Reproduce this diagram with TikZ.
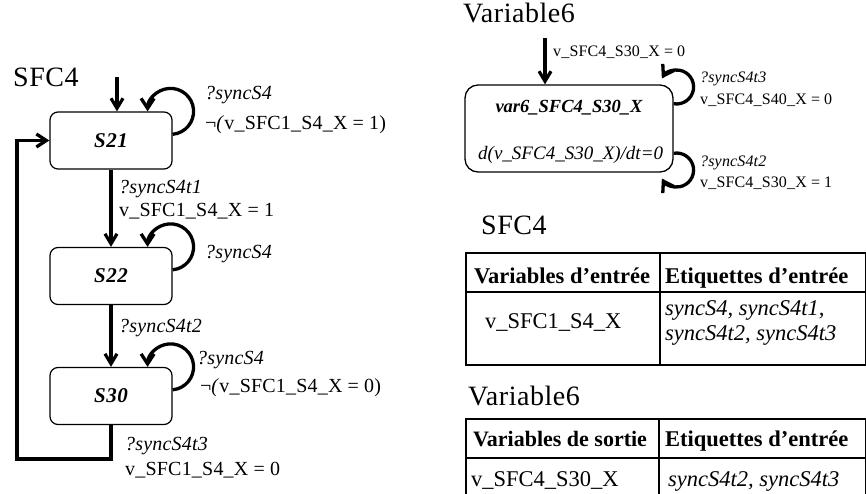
\documentclass[tikz,border=0pt]{standalone}
\usepackage{fontspec}
\setmainfont{Liberation Serif}
\usetikzlibrary{arrows.meta}
\newcommand\fsz[1]{\fontsize{#1}{#1}\selectfont}
\newcommand\fszls[2]{\fontsize{#1}{#1}\selectfont\addfontfeatures{LetterSpace=#2}}
\begin{document}
\begin{tikzpicture}[x=1pt,y=1pt,
  stbox/.style={draw, line width=1.2pt, rounded corners=8pt, minimum width=122pt, minimum height=57pt, inner sep=0pt, font=\fszls{21}{3}\bfseries\itshape},
  vbox/.style={draw, line width=1.3pt, rounded corners=13pt, minimum width=208pt, minimum height=87pt, inner sep=0pt},
  arr/.style={line width=3.2pt, -{Straight Barb[length=10pt,width=12pt]}},
  lp/.style={line width=3.3pt, -{Straight Barb[length=10pt,width=13pt]}},
  fb/.style={line width=3.3pt, -{Straight Barb[length=10pt,width=13pt]}},
  ttl/.style={anchor=base west, inner sep=0pt, font=\fszls{28}{2}},
  lbl/.style={anchor=base west, inner sep=0pt, font=\fszls{20}{1}},
  slbl/.style={anchor=base west, inner sep=0pt, font=\fszls{16}{1}},
  cell/.style={draw, line width=1.5pt, anchor=north west, inner sep=0pt},
  tx/.style={anchor=base west, inner sep=0pt, font=\fsz{22.5}},
  txb/.style={anchor=base, inner sep=0pt, font=\fsz{22.5}\bfseries},
]
\path[use as bounding box] (0,0) rectangle (866,-494);
\clip (0,0) rectangle (866,-494);

% ---------- left: SFC4 ----------
\node[ttl] (tSFC) at (13,-87) {SFC4};
\node[stbox] (S21) at (111,-140.5) {S21};
\node[stbox] (S22) at (111,-276) {S22};
\node[stbox] (S30) at (111,-396) {S30};

\coordinate (i1) at (117,-77);
\draw[arr] (i1) -- (i1 |- S21.north);
\draw[arr] (S21.south) -- (S22.north);
\draw[arr] (S22.south) -- (S30.north);

\draw[lp] ([yshift=-22.9pt]S21.north east) arc[start angle=-85, end angle=180, radius=23pt];
\draw[lp] ([yshift=-22.9pt]S22.north east) arc[start angle=-85, end angle=180, radius=23pt];
\draw[lp] ([yshift=-22.9pt]S30.north east) arc[start angle=-85, end angle=180, radius=23pt];

\coordinate (fb1) at (17,-459);
\draw[fb, line join=miter] (S30.south) |- (fb1) |- (S21.west);

\node[lbl] (l1) at (205,-100) {\itshape ?syncS4};
\node[lbl] (l2) at (205,-130) {¬\textit{(}v\_SFC1\_S4\_X = 1)};
\node[lbl] (l3) at (119,-193.5) {\itshape ?syncS4t1};
\node[lbl] (l4) at (119,-217) {v\_SFC1\_S4\_X = 1};
\node[lbl] (l5) at (205,-258) {\itshape ?syncS4};
\node[lbl] (l6) at (119,-332) {\itshape ?syncS4t2};
\node[lbl] (l7) at (197,-364) {\itshape ?syncS4};
\node[lbl] (l8) at (200,-392) {¬\textit{(}v\_SFC1\_S4\_X = 0)};
\node[lbl] (l9) at (125,-450) {\itshape ?syncS4t3};
\node[lbl] (l10) at (125,-475) {v\_SFC1\_S4\_X = 0};

% ---------- right: Variable6 automaton ----------
\node[ttl] (tV6) at (463,-23) {Variable6};
\node[vbox] (V) at (569,-128.5) {};
\node[anchor=base, inner sep=0pt, font=\fsz{18.5}\bfseries\itshape] (vn) at (569,-113) {var6\_SFC4\_S30\_X};
\node[anchor=base west, inner sep=0pt, font=\fsz{19}\itshape] (vd) at (478,-160) {d(v\_SFC4\_S30\_X)/dt=0};

\coordinate (i2) at (545,-38);
\draw[arr] (i2) -- (i2 |- V.north);
\node[slbl] (r0) at (553,-57) {v\_SFC4\_S30\_X = 0};

\draw[lp] ([yshift=24.8pt]V.east) arc[start angle=-100, end angle=150, radius=17pt];
\draw[lp] ([yshift=-24.8pt]V.east) arc[start angle=100, end angle=-150, radius=17pt];

\node[slbl] (r1) at (700,-83) {\itshape ?syncS4t3};
\node[slbl] (r2) at (700,-105) {v\_SFC4\_S40\_X = 0};
\node[slbl] (r3) at (700,-167) {\itshape ?syncS4t2};
\node[slbl] (r4) at (700,-188) {v\_SFC4\_S30\_X = 1};

% ---------- table 1 ----------
\node[ttl] (tS2) at (481,-234) {SFC4};
\node[cell, minimum width=194pt, minimum height=39pt] (a11) at (465,-252) {};
\node[cell, minimum width=206pt, minimum height=39pt] (a12) at (659,-252) {};
\node[cell, minimum width=194pt, minimum height=73pt] (a21) at (465,-291) {};
\node[cell, minimum width=206pt, minimum height=73pt] (a22) at (659,-291) {};
\node[txb] (ta11) at (562,-283) {Variables d’entrée};
\node[txb, anchor=base west] (ta12) at (665,-283) {Etiquettes d’entrée};
\node[tx] (ta21) at (485,-328) {v\_SFC1\_S4\_X};
\node[tx, font=\fsz{22.5}\itshape] (ta22a) at (665,-315) {syncS4, syncS4t1,};
\node[tx, font=\fsz{22.5}\itshape] (ta22b) at (665,-340) {syncS4t2, syncS4t3};

% ---------- table 2 ----------
\node[ttl] (tV62) at (468,-405) {Variable6};
\node[cell, minimum width=193pt, minimum height=39pt] (b11) at (465,-418) {};
\node[cell, minimum width=207pt, minimum height=39pt] (b12) at (658,-418) {};
\node[cell, minimum width=193pt, minimum height=70pt] (b21) at (465,-457) {};
\node[cell, minimum width=207pt, minimum height=70pt] (b22) at (658,-457) {};
\node[txb, font=\fsz{22}\bfseries] (tb11) at (560,-446) {Variables de sortie};
\node[txb, anchor=base west] (tb12) at (665,-446) {Etiquettes d’entrée};
\node[tx] (tb21) at (471,-486) {v\_SFC4\_S30\_X};
\node[tx, font=\fsz{22.5}\itshape] (tb22) at (668,-486) {syncS4t2, syncS4t3};
\end{tikzpicture}
\end{document}
